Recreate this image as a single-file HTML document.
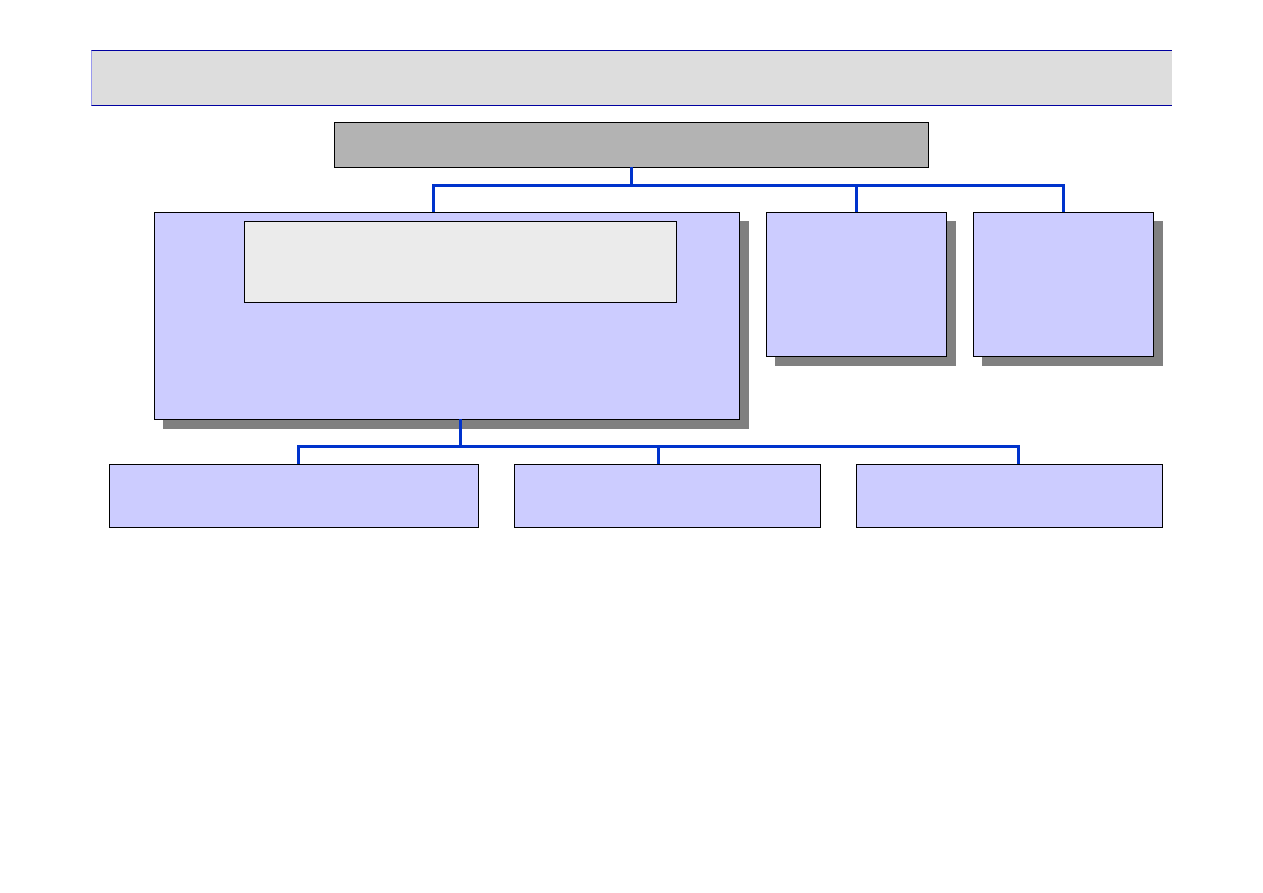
<!DOCTYPE html>
<html><head><style>
body{margin:0;width:1263px;height:893px;background:#fff;position:relative;overflow:hidden}
div{position:absolute;box-sizing:border-box}
.b{border:1px solid #000;background:#ccccff}
.s{background:#808080}
.l{background:#0033cc}
</style></head><body>
<div style="left:91px;top:50px;width:1081px;height:56px;background:#dddddd;border-top:1px solid #0000a0;border-bottom:1px solid #0000a0;border-left:1px solid #9999ee"></div>
<div style="left:334px;top:122px;width:595px;height:46px;background:#b3b3b3;border:1px solid #000"></div>
<div class="l" style="left:630px;top:167px;width:3px;height:19px"></div>
<div class="l" style="left:432px;top:184px;width:633px;height:3px"></div>
<div class="l" style="left:432px;top:184px;width:3px;height:28px"></div>
<div class="l" style="left:855px;top:184px;width:3px;height:28px"></div>
<div class="l" style="left:1062px;top:184px;width:3px;height:28px"></div>
<div class="s" style="left:163px;top:221px;width:586px;height:208px"></div>
<div class="b" style="left:154px;top:212px;width:586px;height:208px"></div>
<div style="left:244px;top:221px;width:433px;height:82px;background:#ebebeb;border:1px solid #000"></div>
<div class="s" style="left:775px;top:221px;width:181px;height:145px"></div>
<div class="b" style="left:766px;top:212px;width:181px;height:145px"></div>
<div class="s" style="left:982px;top:221px;width:181px;height:145px"></div>
<div class="b" style="left:973px;top:212px;width:181px;height:145px"></div>
<div class="l" style="left:459px;top:419px;width:3px;height:28px"></div>
<div class="l" style="left:297px;top:445px;width:723px;height:3px"></div>
<div class="l" style="left:297px;top:445px;width:3px;height:19px"></div>
<div class="l" style="left:657px;top:445px;width:3px;height:19px"></div>
<div class="l" style="left:1017px;top:445px;width:3px;height:19px"></div>
<div class="b" style="left:109px;top:464px;width:370px;height:64px"></div>
<div class="b" style="left:514px;top:464px;width:307px;height:64px"></div>
<div class="b" style="left:856px;top:464px;width:307px;height:64px"></div>
</body></html>
